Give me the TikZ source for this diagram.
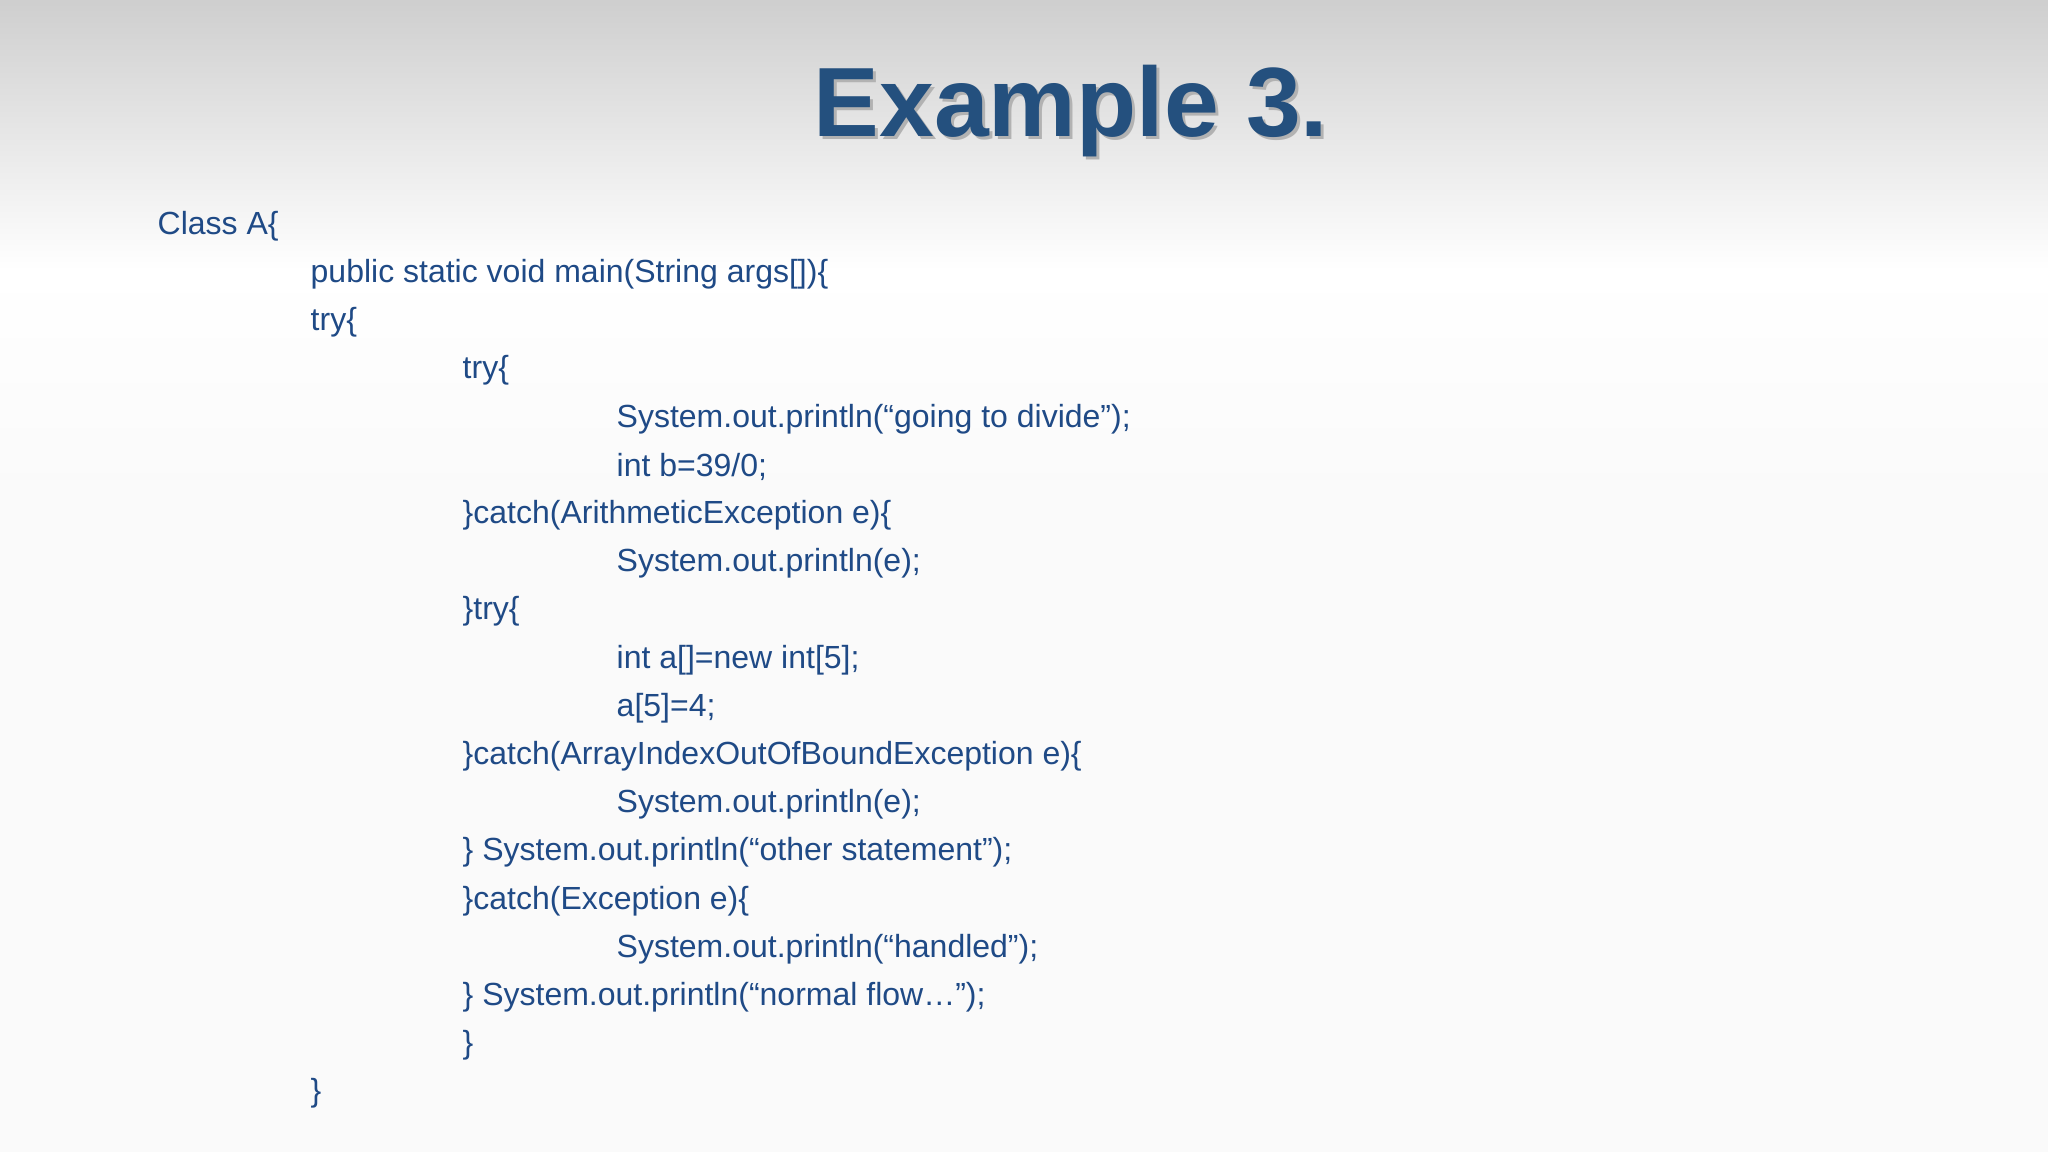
\documentclass[tikz,border=0pt]{standalone}
\usepackage{fontspec}
\setmainfont{Liberation Sans}
\definecolor{codeblue}{HTML}{1F4A86}
\definecolor{titleblue}{HTML}{24507E}
\begin{document}
\begin{tikzpicture}[x=0.01cm,y=-0.01cm,
  code/.style={anchor=west,inner sep=0pt,text=codeblue,font=\fontsize{9.1pt}{11pt}\selectfont}]
\useasboundingbox (0,0) rectangle (2048,1152);
\shade[top color=black!19,bottom color=white] (0,0) rectangle (2048,270);
\fill[black!2] (0,270) rectangle (2048,1152);
\shade[top color=white,bottom color=black!2] (0,270) rectangle (2048,500);
\node[text=black!30,font=\bfseries\fontsize{28pt}{32pt}\selectfont] at (1074,114) {Example 3.};
\node[text=titleblue,font=\bfseries\fontsize{28pt}{32pt}\selectfont] (title) at (1071,111) {Example 3.};
\def\L{48.2}
\node[code] (l1) at (157,226) {Class A\{};
\node[code] (l2) at (310,226+\L) {public static void main(String args[])\{};
\node[code] (l3) at (310,226+2*\L) {try\{};
\node[code] (l4) at (462,226+3*\L) {try\{};
\node[code] (l5) at (616,226+4*\L) {System.out.println(“going to divide”);};
\node[code] (l6) at (616,226+5*\L) {int b=39/0;};
\node[code] (l7) at (462,226+6*\L) {\}catch(ArithmeticException e)\{};
\node[code] (l8) at (616,226+7*\L) {System.out.println(e);};
\node[code] (l9) at (462,226+8*\L) {\}try\{};
\node[code] (l10) at (616,226+9*\L) {int a[]=new int[5];};
\node[code] (l11) at (616,226+10*\L) {a[5]=4;};
\node[code] (l12) at (462,226+11*\L) {\}catch(ArrayIndexOutOfBoundException e)\{};
\node[code] (l13) at (616,226+12*\L) {System.out.println(e);};
\node[code] (l14) at (462,226+13*\L) {\} System.out.println(“other statement”);};
\node[code] (l15) at (462,226+14*\L) {\}catch(Exception e)\{};
\node[code] (l16) at (616,226+15*\L) {System.out.println(“handled”);};
\node[code] (l17) at (462,226+16*\L) {\} System.out.println(“normal flow…”);};
\node[code] (l18) at (462,226+17*\L) {\}};
\node[code] (l19) at (310,226+18*\L) {\}};
\end{tikzpicture}
\end{document}
